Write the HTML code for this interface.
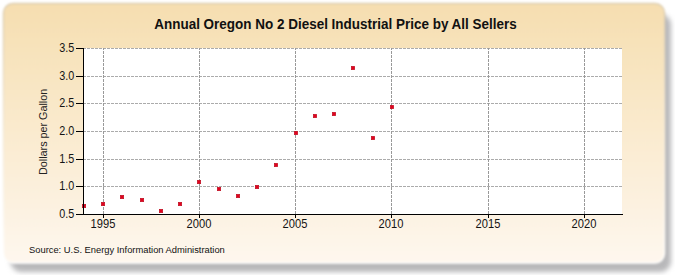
<!DOCTYPE html>
<html><head><meta charset="utf-8"><style>
html,body{margin:0;padding:0;width:675px;height:275px;overflow:hidden;background:#fff;}
svg{display:block;}
text{font-family:"Liberation Sans",sans-serif;}
</style></head><body>
<svg width="675" height="275" viewBox="0 0 675 275">
<defs>
<linearGradient id="bg" x1="0" y1="0" x2="0" y2="1">
<stop offset="0" stop-color="#F6DEB0"/>
<stop offset="1" stop-color="#FEF7EE"/>
</linearGradient>
<linearGradient id="edge" x1="0" y1="0" x2="0" y2="1"><stop offset="0" stop-color="#dccdb0"/><stop offset="0.5" stop-color="#f4ead8"/><stop offset="1" stop-color="#ffffff"/></linearGradient>
<filter id="sh" x="-10%" y="-10%" width="120%" height="130%">
<feGaussianBlur stdDeviation="2.4"/>
</filter>
<filter id="soft" x="-2%" y="-4%" width="104%" height="108%"><feGaussianBlur stdDeviation="1.1"/></filter>
</defs>
<rect x="10.5" y="14" width="660.5" height="258" rx="11" fill="#b8b8ba" filter="url(#sh)"/>
<rect x="3.5" y="3.5" width="661" height="259.5" rx="9.5" fill="url(#bg)" stroke="url(#edge)" stroke-width="1.5" filter="url(#soft)"/>
<rect x="84" y="48" width="538" height="166" fill="#fff"/>
<g stroke="#ababab" stroke-width="1" stroke-dasharray="3 1" stroke-dashoffset="1"><line x1="84" y1="48.5" x2="622" y2="48.5"/><line x1="84" y1="76.5" x2="622" y2="76.5"/><line x1="84" y1="103.5" x2="622" y2="103.5"/><line x1="84" y1="131.5" x2="622" y2="131.5"/><line x1="84" y1="159.5" x2="622" y2="159.5"/><line x1="84" y1="186.5" x2="622" y2="186.5"/></g><g stroke="#999999" stroke-width="1" stroke-dasharray="3 1" stroke-dashoffset="1"><line x1="103.5" y1="48" x2="103.5" y2="214"/><line x1="199.5" y1="48" x2="199.5" y2="214"/><line x1="295.5" y1="48" x2="295.5" y2="214"/><line x1="391.5" y1="48" x2="391.5" y2="214"/><line x1="488.5" y1="48" x2="488.5" y2="214"/><line x1="584.5" y1="48" x2="584.5" y2="214"/></g>

<g fill="#e3021e" stroke="#b80a1c" stroke-width="0.6"><rect x="82.3" y="204.3" width="3.4" height="3.4"/><rect x="101.3" y="202.3" width="3.4" height="3.4"/><rect x="120.3" y="195.3" width="3.4" height="3.4"/><rect x="140.3" y="198.3" width="3.4" height="3.4"/><rect x="159.3" y="209.3" width="3.4" height="3.4"/><rect x="178.3" y="202.3" width="3.4" height="3.4"/><rect x="197.3" y="180.3" width="3.4" height="3.4"/><rect x="217.3" y="187.3" width="3.4" height="3.4"/><rect x="236.3" y="194.3" width="3.4" height="3.4"/><rect x="255.3" y="185.3" width="3.4" height="3.4"/><rect x="274.3" y="163.3" width="3.4" height="3.4"/><rect x="294.3" y="131.3" width="3.4" height="3.4"/><rect x="313.3" y="114.3" width="3.4" height="3.4"/><rect x="332.3" y="112.3" width="3.4" height="3.4"/><rect x="351.3" y="66.3" width="3.4" height="3.4"/><rect x="371.3" y="136.3" width="3.4" height="3.4"/><rect x="390.3" y="105.3" width="3.4" height="3.4"/></g>
<g stroke="#000" stroke-width="1">
<line x1="83.5" y1="48" x2="83.5" y2="214"/>
<line x1="76" y1="214.5" x2="623" y2="214.5"/>
<line x1="76" y1="48.5" x2="84" y2="48.5"/><line x1="76" y1="76.5" x2="84" y2="76.5"/><line x1="76" y1="103.5" x2="84" y2="103.5"/><line x1="76" y1="131.5" x2="84" y2="131.5"/><line x1="76" y1="159.5" x2="84" y2="159.5"/><line x1="76" y1="186.5" x2="84" y2="186.5"/><line x1="76" y1="214.5" x2="84" y2="214.5"/><line x1="103.5" y1="214" x2="103.5" y2="218"/><line x1="199.5" y1="214" x2="199.5" y2="218"/><line x1="295.5" y1="214" x2="295.5" y2="218"/><line x1="391.5" y1="214" x2="391.5" y2="218"/><line x1="488.5" y1="214" x2="488.5" y2="218"/><line x1="584.5" y1="214" x2="584.5" y2="218"/>
</g>
<g font-size="12" fill="#141414"><text transform="translate(74.2,52.1) scale(0.9,1)" text-anchor="end">3.5</text><text transform="translate(74.2,80.1) scale(0.9,1)" text-anchor="end">3.0</text><text transform="translate(74.2,107.1) scale(0.9,1)" text-anchor="end">2.5</text><text transform="translate(74.2,135.1) scale(0.9,1)" text-anchor="end">2.0</text><text transform="translate(74.2,163.1) scale(0.9,1)" text-anchor="end">1.5</text><text transform="translate(74.2,190.1) scale(0.9,1)" text-anchor="end">1.0</text><text transform="translate(74.2,218.1) scale(0.9,1)" text-anchor="end">0.5</text><text transform="translate(103,228) scale(0.93,1)" text-anchor="middle">1995</text><text transform="translate(199,228) scale(0.93,1)" text-anchor="middle">2000</text><text transform="translate(295,228) scale(0.93,1)" text-anchor="middle">2005</text><text transform="translate(391,228) scale(0.93,1)" text-anchor="middle">2010</text><text transform="translate(488,228) scale(0.93,1)" text-anchor="middle">2015</text><text transform="translate(584,228) scale(0.93,1)" text-anchor="middle">2020</text></g>
<text transform="translate(335.5,28.9) scale(0.95,1)" text-anchor="middle" font-size="14.2" font-weight="bold" fill="#111">Annual Oregon No 2 Diesel Industrial Price by All Sellers</text>
<text transform="translate(47.4,131.9) rotate(-90) scale(0.93,1)" text-anchor="middle" font-size="11.6" fill="#222">Dollars per Gallon</text>
<text transform="translate(29,253) scale(0.965,1)" font-size="9.7" fill="#111">Source: U.S. Energy Information Administration</text>
</svg>
</body></html>
